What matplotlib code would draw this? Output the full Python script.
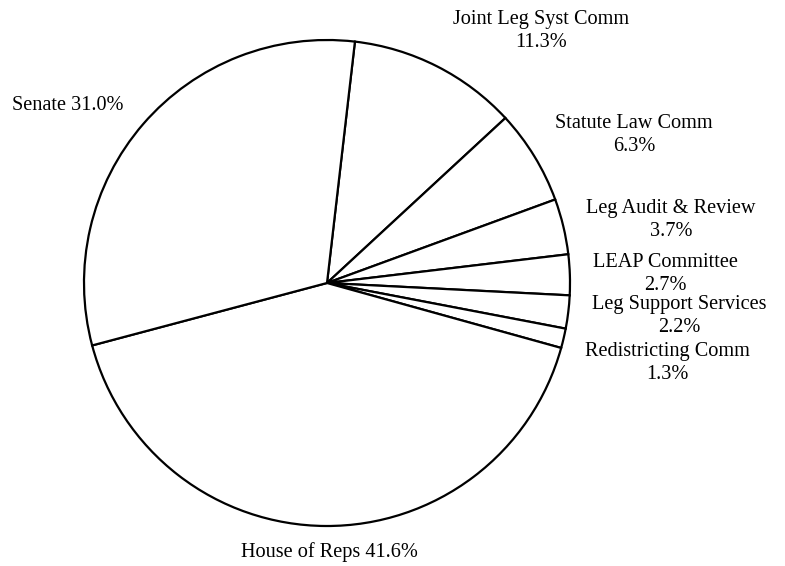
import matplotlib.pyplot as plt

plt.rcParams['font.family'] = ['Liberation Serif', 'DejaVu Serif']

# wedges in clockwise order starting at the top boundary
names = ["Joint Leg Syst Comm", "Statute Law Comm", "Leg Audit & Review",
         "LEAP Committee", "Leg Support Services", "Redistricting Comm",
         "House of Reps", "Senate"]
pcts = [11.3, 6.3, 3.7, 2.7, 2.2, 1.3, 41.6, 31.0]
two_line = [True, True, True, True, True, True, False, False]

# label centres in pixel coords (x, y from top)
label_pos = [(541, 31), (634, 135), (671, 220), (665, 274),
             (679, 316), (667, 363), (329, 552), (68, 106)]

W, H = 785, 566
fig = plt.figure(figsize=(W / 100, H / 100), dpi=100)
ax = fig.add_axes([0, 0, 1, 1])

ax.pie(pcts, colors=['white'] * len(pcts), startangle=83.4, counterclock=False,
       center=(327, H - 283), radius=243, frame=True,
       wedgeprops=dict(edgecolor='black', linewidth=1.6))

for name, p, two, (x, y) in zip(names, pcts, two_line, label_pos):
    if two:
        txt = f"{name}\n{p:.1f}%"
    else:
        txt = f"{name} {p:.1f}%"
    ax.text(x, H - y, txt, ha='center', va='center', fontsize=14.6,
            linespacing=1.25)

ax.set_xlim(0, W)
ax.set_ylim(0, H)
ax.set_aspect('equal')
ax.axis('off')

plt.savefig('out.png', dpi=100)
